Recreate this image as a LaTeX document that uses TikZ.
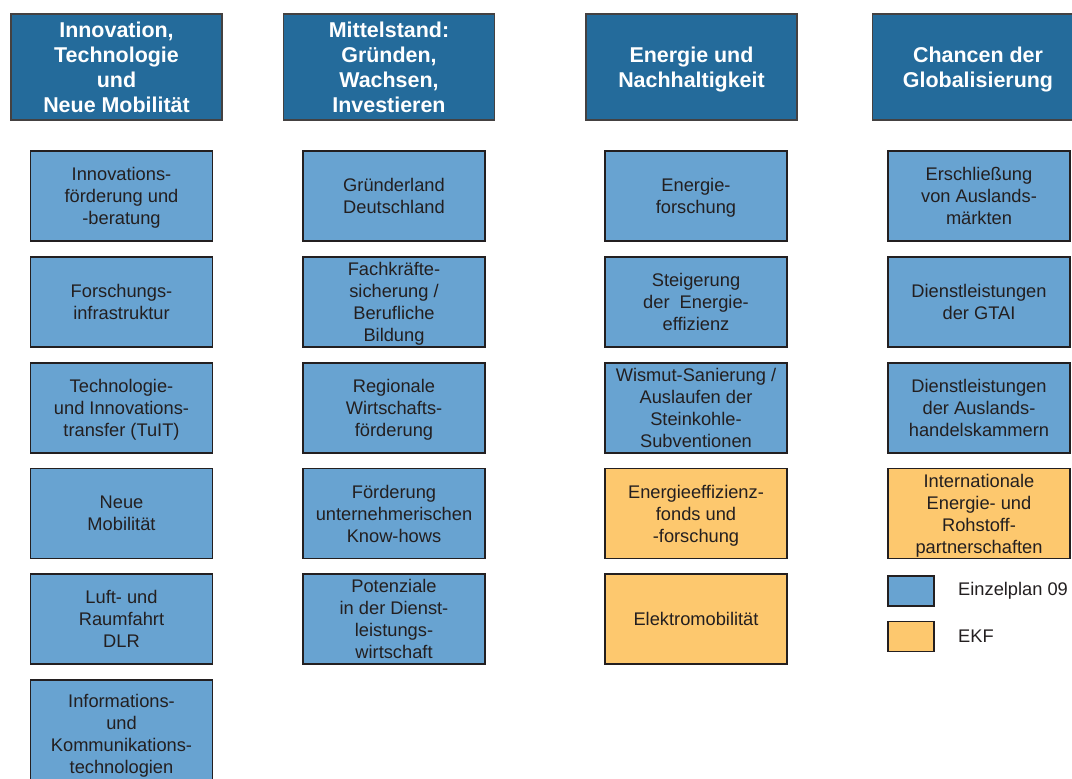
\documentclass[tikz,border=0pt]{standalone}
\usepackage{fontspec}
\setmainfont{Liberation Sans}
\definecolor{kopfblau}{RGB}{36,107,155}
\definecolor{planblau}{RGB}{104,163,209}
\definecolor{ekfgelb}{RGB}{253,200,110}
\definecolor{rand}{RGB}{35,31,32}
\tikzset{
  kopf/.style={draw=rand!85, line width=1.1pt, fill=kopfblau, text=white,
    minimum width=4.22cm, minimum height=2.12cm, inner sep=0pt, align=center, text depth=0pt,
    font=\bfseries\fontsize{12.2}{14.2}\selectfont},
  posten/.style={draw=rand, line width=1.1pt, fill=planblau, text=rand,
    minimum width=3.64cm, minimum height=1.8cm, inner sep=0pt, align=center, text depth=0pt,
    font=\fontsize{10.4}{12.5}\selectfont},
  ekf/.style={posten, fill=ekfgelb},
  legende/.style={draw=rand, line width=1.1pt, minimum width=0.92cm, minimum height=0.6cm, inner sep=0pt}
}
\begin{document}
\begin{tikzpicture}[x=0.02cm, y=-0.02cm]

\useasboundingbox[fill=white] (0,0) rectangle (1072,778);
\clip (0,0) rectangle (1072,778);

% Spaltenkoepfe
\node[kopf] (kopfInno) at (116.5,67) {Innovation,\\Technologie\\und\\Neue Mobilit\"at};
\node[kopf] (kopfMittel) at (389,67) {Mittelstand:\\Gr\"unden,\\Wachsen,\\Investieren};
\node[kopf] (kopfEnergie) at (691.5,67) {Energie und\\Nachhaltigkeit};
\node[kopf] (kopfGlobal) at (978,67) {Chancen der\\Globalisierung};

% Innovation, Technologie und Neue Mobilitaet
\node[posten] (inno1) at (121.5,196) {Innovations-\\f\"orderung und\\-beratung};
\node[posten] (inno2) at (121.5,302) {Forschungs-\\infrastruktur};
\node[posten] (inno3) at (121.5,408) {Technologie-\\und Innovations-\\transfer (TuIT)};
\node[posten] (inno4) at (121.5,513.5) {Neue\\Mobilit\"at};
\node[posten] (inno5) at (121.5,619) {Luft- und\\Raumfahrt\\DLR};
\node[posten, minimum height=2.16cm] (inno6) at (121.5,734) {Informations-\\und\\Kommunikations-\\technologien};

% Mittelstand
\node[posten] (mittel1) at (394,196) {Gr\"underland\\Deutschland};
\node[posten] (mittel2) at (394,302) {Fachkr\"afte-\\sicherung /\\Berufliche\\Bildung};
\node[posten] (mittel3) at (394,408) {Regionale\\Wirtschafts-\\f\"orderung};
\node[posten] (mittel4) at (394,513.5) {F\"orderung\\unternehmerischen\\Know-hows};
\node[posten] (mittel5) at (394,619) {Potenziale\\in der Dienst-\\leistungs-\\wirtschaft};

% Energie und Nachhaltigkeit
\node[posten] (energie1) at (696,196) {Energie-\\forschung};
\node[posten] (energie2) at (696,302) {Steigerung\\der\ \ Energie-\\effizienz};
\node[posten] (energie3) at (696,408) {Wismut-Sanierung /\\Auslaufen der\\Steinkohle-\\Subventionen};
\node[ekf] (energie4) at (696,513.5) {Energieeffizienz-\\fonds und\\-forschung};
\node[ekf] (energie5) at (696,619) {Elektromobilit\"at};

% Chancen der Globalisierung
\node[posten] (global1) at (979,196) {Erschlie\ss ung\\von Auslands-\\m\"arkten};
\node[posten] (global2) at (979,302) {Dienstleistungen\\der GTAI};
\node[posten] (global3) at (979,408) {Dienstleistungen\\der Auslands-\\handelskammern};
\node[ekf] (global4) at (979,513.5) {Internationale\\Energie- und\\Rohstoff-\\partnerschaften};

% Legende
\node[legende, fill=planblau] (legPlan) at (911,591) {};
\node[legende, fill=ekfgelb] (legEkf) at (911,636.5) {};
\node[anchor=west, text=rand, font=\fontsize{10.4}{12.5}\selectfont] (txtPlan) at (952,591) {Einzelplan 09};
\node[anchor=west, text=rand, font=\fontsize{10.4}{12.5}\selectfont] (txtEkf) at (952,636.5) {EKF};

\end{tikzpicture}
\end{document}
